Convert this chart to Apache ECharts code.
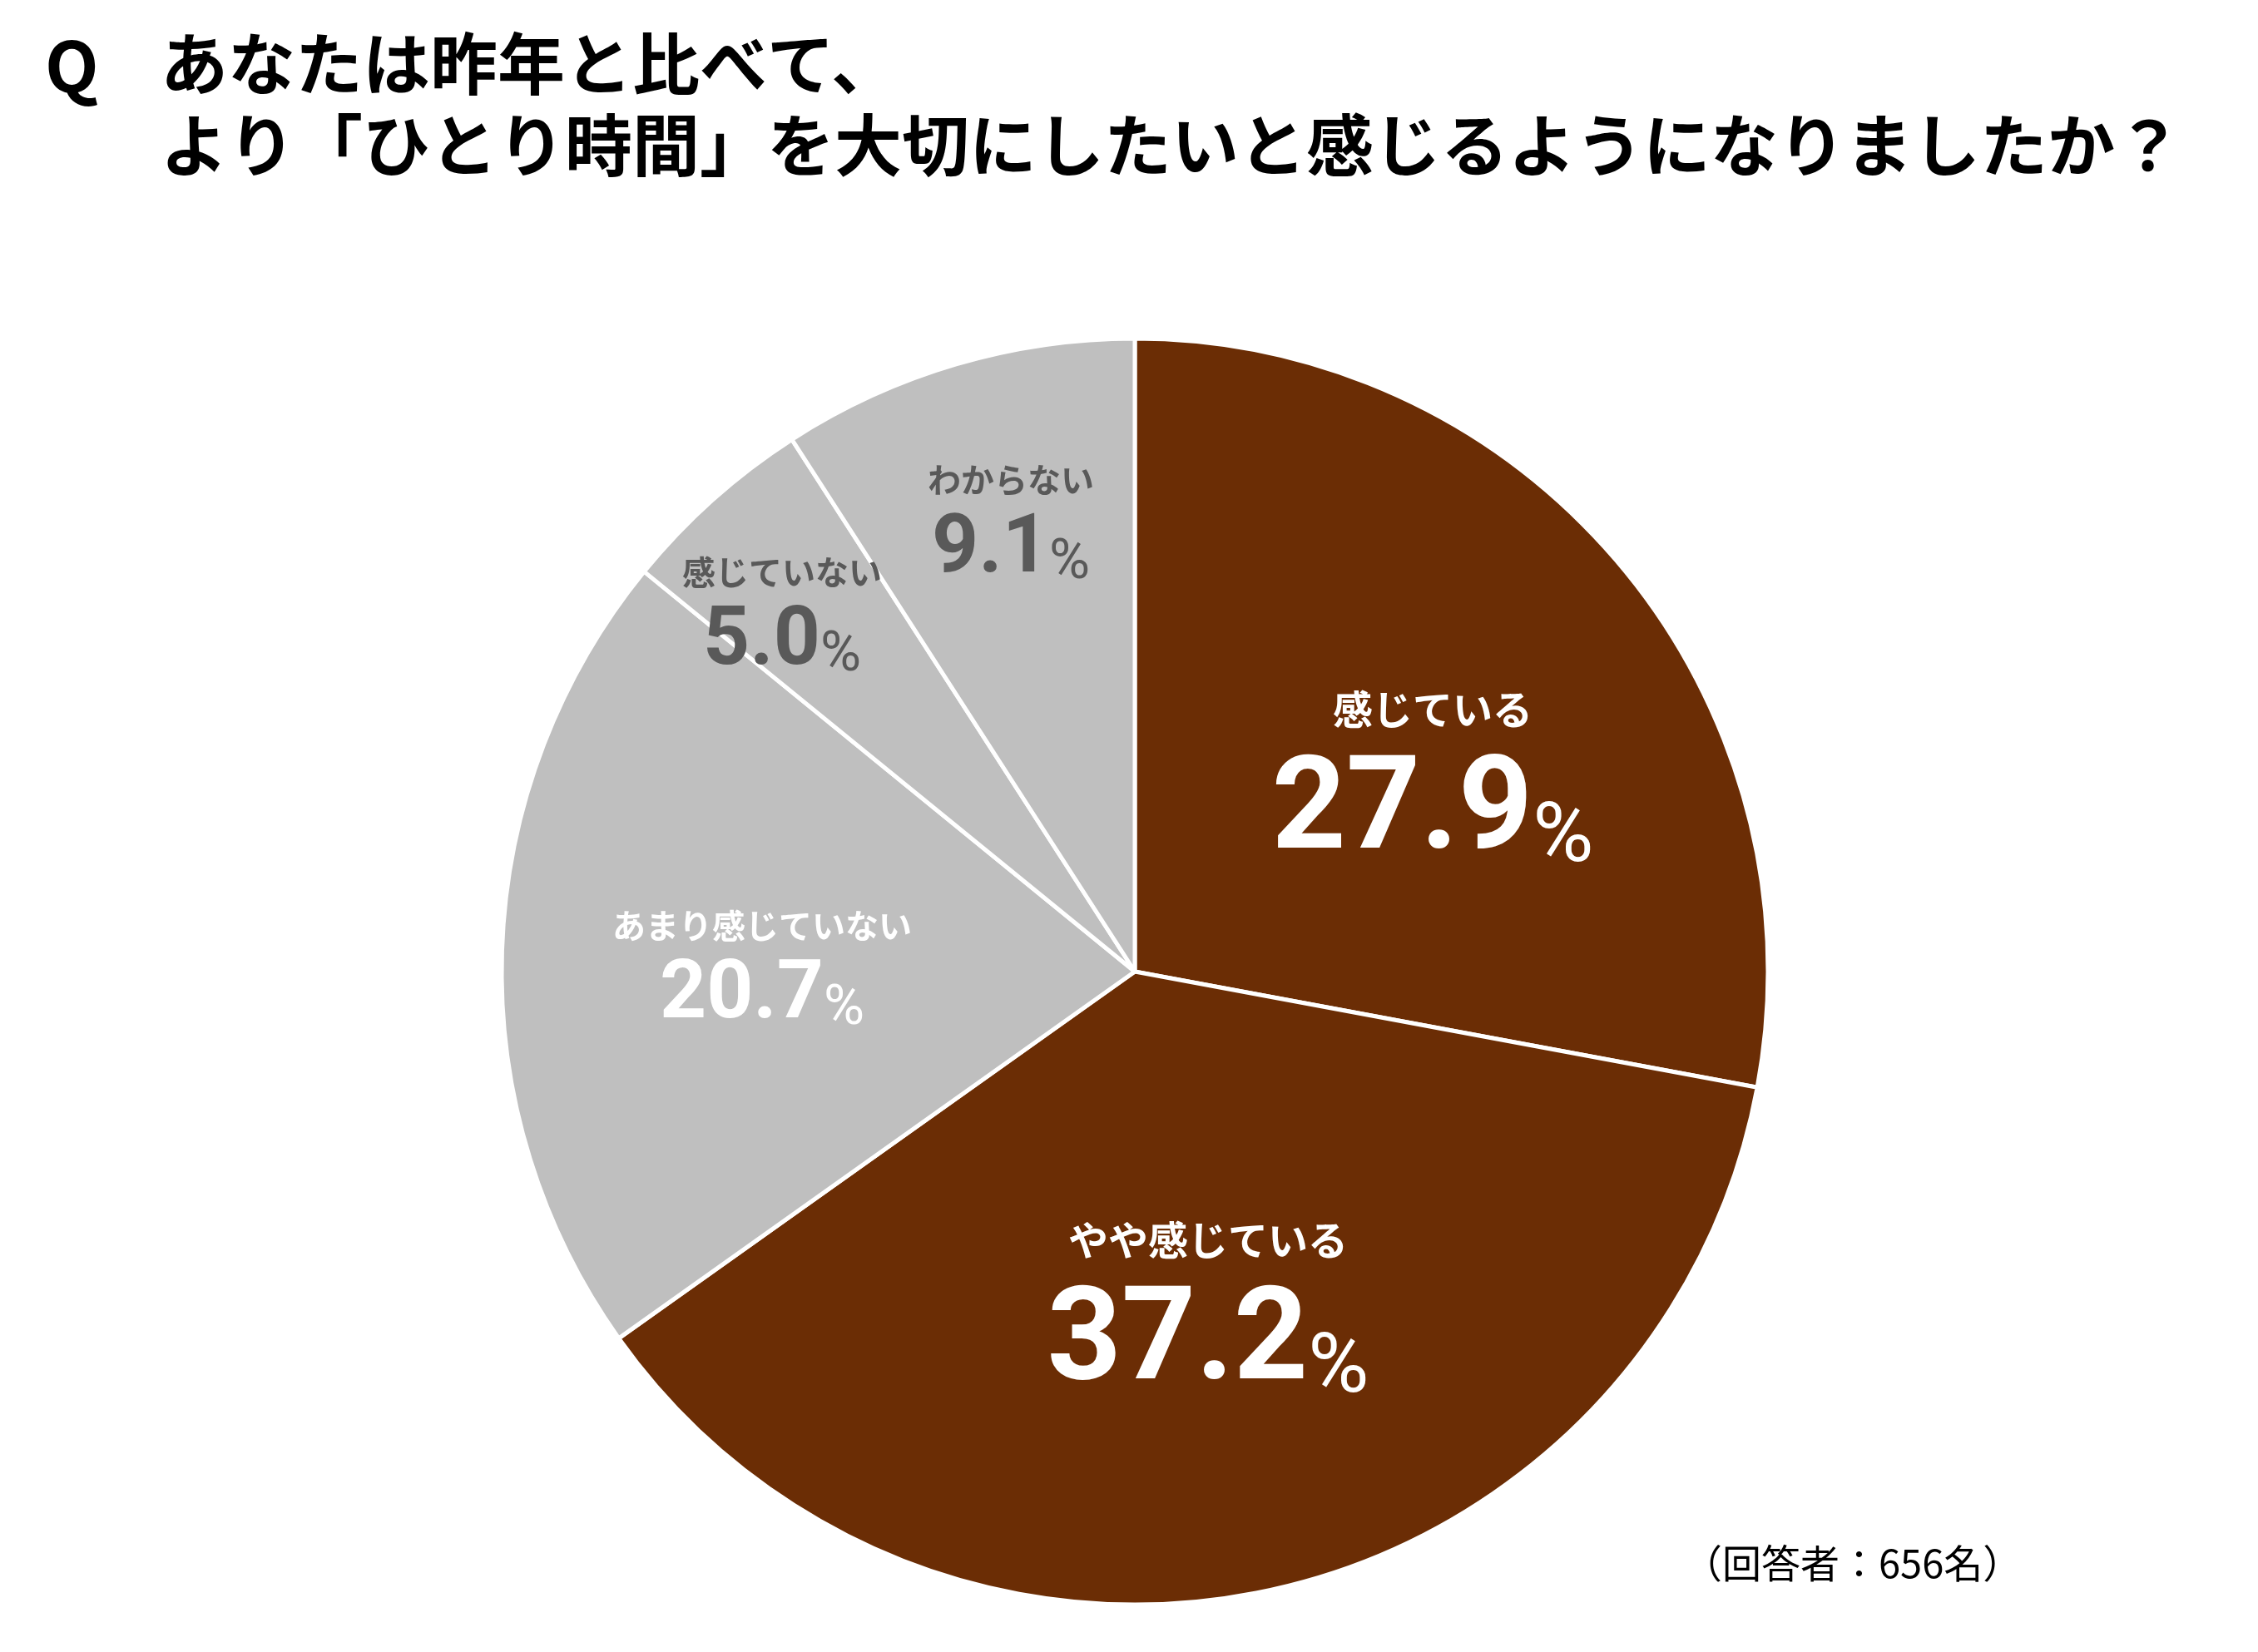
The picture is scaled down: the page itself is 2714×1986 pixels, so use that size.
<!DOCTYPE html>
<html><head><meta charset="utf-8">
<script src="https://cdn.jsdelivr.net/npm/echarts@6/dist/echarts.min.js"></script>
<style>html,body{margin:0;padding:0;background:#fff}#c{width:2714px;height:1986px}</style>
</head><body><div id="c"></div>
<script>
const categories = ['感じている', 'やや感じている', 'あまり感じていない', '感じていない', 'わからない'];
const values = [27.9, 37.2, 20.7, 5.0, 9.1];
const titleQ = 'Q';
const titleLines = ['あなたは昨年と比べて、', 'より「ひとり時間」を大切にしたいと感じるようになりましたか？'];
const footnote = '（回答者：656名）';

const colors = ['#6b2d05', '#6b2d05', '#bfbfbf', '#bfbfbf', '#bfbfbf'];
const big = [true, true, false, false, false];
const labelColors = ['#ffffff', '#ffffff', '#ffffff', '#595959', '#595959'];
// label block centres (layout only)
const labelPos = [[1722, 933], [1452, 1571], [916, 1163], [940, 738], [1215, 627]];
const FF = '"Noto Sans CJK JP", "Noto Sans", sans-serif';
const FN = 'Roboto, "Noto Sans CJK JP", sans-serif';

const chart = echarts.init(document.getElementById('c'), null, {renderer: 'canvas'});
const data = categories.map((n, i) => {
  const c = labelColors[i];
  const rich = big[i] ? {
    n: {fontSize: 48, fontWeight: 'bold', color: c, lineHeight: 94, fontFamily: FF},
    v: {fontSize: 156, fontWeight: 'bold', color: c, lineHeight: 160, fontFamily: FN},
    p: {fontSize: 100, fontWeight: 'normal', color: c, lineHeight: 120, fontFamily: FN, verticalAlign: 'bottom'}
  } : {
    n: {fontSize: 40, fontWeight: 'bold', color: c, lineHeight: 70, fontFamily: FF},
    v: {fontSize: 98, fontWeight: 'bold', color: c, lineHeight: 100, fontFamily: FN},
    p: {fontSize: 67, fontWeight: 'normal', color: c, lineHeight: 80, fontFamily: FN, verticalAlign: 'bottom'}
  };
  return {
    name: n, value: values[i],
    itemStyle: {color: colors[i]},
    label: {rich: rich}
  };
});

chart.setOption({
  backgroundColor: '#ffffff',
  animation: false,
  title: [
    {text: titleQ, left: 49, top: 32, textStyle: {fontSize: 84, fontWeight: 'bold', color: '#000', fontFamily: FF}},
    {text: titleLines.join('\n'), left: 188, top: 22,
     textStyle: {fontSize: 81, fontWeight: 'bold', color: '#000', lineHeight: 98, fontFamily: FF}},
    {text: footnote, left: 2018, top: 1851, textStyle: {fontSize: 47, fontWeight: 'normal', color: '#000', fontFamily: FF}}
  ],
  series: [{
    type: 'pie',
    center: [1364, 1168],
    radius: [0, 761],
    startAngle: 90,
    clockwise: true,
    avoidLabelOverlap: false,
    itemStyle: {borderColor: '#ffffff', borderWidth: 5},
    label: {
      show: true,
      position: 'inside',
      align: 'center',
      formatter: p => '{n|' + p.name + '}\n{v|' + p.value.toFixed(1) + '}{p|%}'
    },
    labelLine: {show: false},
    labelLayout: p => ({x: labelPos[p.dataIndex][0], y: labelPos[p.dataIndex][1], align: 'center', verticalAlign: 'middle'}),
    emphasis: {disabled: true},
    data: data
  }]
});
</script></body></html>
